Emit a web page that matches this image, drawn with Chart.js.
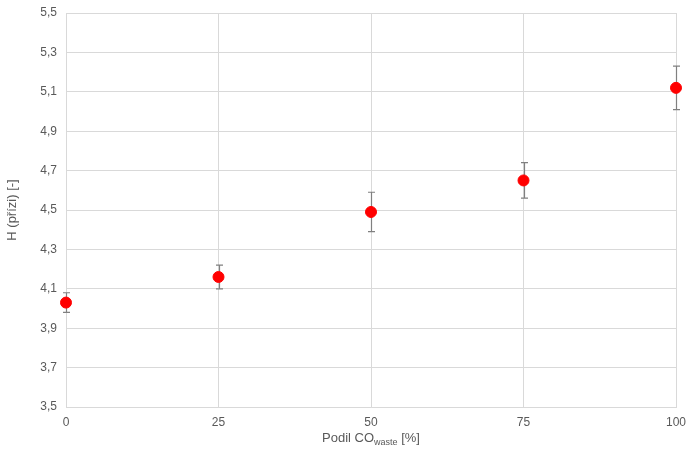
<!DOCTYPE html>
<html>
<head>
<meta charset="utf-8">
<script src="https://cdn.jsdelivr.net/npm/chart.js@4/dist/chart.umd.min.js"></script>
<style>
  html, body { margin: 0; padding: 0; background: #fff; }
  #wrap { width: 687px; height: 454px; }
</style>
</head>
<body>
<div id="wrap"><canvas id="myChart"></canvas></div>
<script>
"use strict";

const shares = [0, 25, 50, 75, 100];
const hValues = [4.03, 4.16, 4.49, 4.65, 5.12];
const hErrors = [0.05, 0.06, 0.10, 0.09, 0.11];
const xTicks = [0, 25, 50, 75, 100];

const textGray = `#595959`;
const gridGray = `#d9d9d9`;

// draws the error bars and the subscripted x title
const errorBars = {
  id: `errorBars`,
  beforeDatasetsDraw(chart) {
    const ctx = chart.ctx;
    const xs = chart.scales.x;
    const ys = chart.scales.y;
    ctx.save();
    ctx.strokeStyle = `#808080`;
    ctx.lineWidth = 1.2;
    shares.forEach((s, i) => {
      const px = Math.round(xs.getPixelForValue(s)) + 0.5;
      const top = ys.getPixelForValue(hValues[i] + hErrors[i]);
      const bot = ys.getPixelForValue(hValues[i] - hErrors[i]);
      ctx.beginPath();
      ctx.moveTo(px, top);
      ctx.lineTo(px, bot);
      ctx.moveTo(px - 3.5, top);
      ctx.lineTo(px + 3.5, top);
      ctx.moveTo(px - 3.5, bot);
      ctx.lineTo(px + 3.5, bot);
      ctx.stroke();
    });
    ctx.restore();
  },
  afterDraw(chart) {
    const ctx = chart.ctx;
    const area = chart.chartArea;
    const cx = (area.left + area.right) / 2;
    const y = 438;
    const main = `13px "Liberation Sans", Arial, sans-serif`;
    const sub = `9px "Liberation Sans", Arial, sans-serif`;
    const a = `Podil CO`;
    const b = `waste`;
    const c = ` [%]`;
    ctx.save();
    ctx.fillStyle = textGray;
    ctx.textBaseline = `alphabetic`;
    ctx.font = main;
    const wa = ctx.measureText(a).width;
    const wc = ctx.measureText(c).width;
    ctx.font = sub;
    const wb = ctx.measureText(b).width;
    let x = cx - (wa + wb + wc) / 2;
    ctx.font = main;
    ctx.fillText(a, x, y + 4);
    x += wa;
    ctx.font = sub;
    ctx.fillText(b, x, y + 7);
    x += wb;
    ctx.font = main;
    ctx.fillText(c, x, y + 4);
    ctx.restore();
  }
};

const chartCanvas = document.getElementById(`myChart`).getContext(`2d`);
const chart1 = new Chart(chartCanvas, {
  type: `scatter`,
  data: {
    datasets: [
      {
        label: `H`,
        data: shares.map((s, i) => ({ x: s, y: hValues[i] })),
        backgroundColor: `#ff0000`,
        borderColor: `#ff0000`,
        pointRadius: 5.5,
        pointHoverRadius: 5.5,
        clip: false
      }
    ]
  },
  plugins: [errorBars],
  options: {
    responsive: true,
    maintainAspectRatio: false,
    animation: false,
    layout: { padding: { left: 0, right: 11, top: 13, bottom: 0 } },
    plugins: {
      legend: { display: false },
      tooltip: { enabled: false }
    },
    scales: {
      x: {
        type: `linear`,
        min: 0,
        max: 100,
        afterBuildTicks: (scale) => {
          scale.ticks = xTicks.map((v) => ({ value: v }));
        },
        afterFit: (scale) => {
          scale.height = 47;
          scale.paddingLeft = 0;
          scale.paddingRight = 0;
        },
        grid: { color: gridGray, drawTicks: false },
        border: { color: gridGray },
        ticks: {
          color: textGray,
          padding: 8,
          font: { family: `"Liberation Sans", Arial, sans-serif`, size: 12 }
        },
        title: { display: false }
      },
      y: {
        min: 3.5,
        max: 5.5,
        afterFit: (scale) => {
          scale.width = 66;
          scale.paddingTop = 0;
          scale.paddingBottom = 0;
        },
        grid: { color: gridGray, drawTicks: false },
        border: { color: gridGray },
        ticks: {
          stepSize: 0.2,
          color: textGray,
          padding: 9,
          font: { family: `"Liberation Sans", Arial, sans-serif`, size: 12 },
          callback: (v) => v.toFixed(1).replace(`.`, `,`)
        },
        title: {
          display: true,
          text: `H (přízi) [-]`,
          color: textGray,
          padding: { top: 5, bottom: 4 },
          font: { family: `"Liberation Sans", Arial, sans-serif`, size: 13 }
        }
      }
    }
  }
});
</script>
</body>
</html>
